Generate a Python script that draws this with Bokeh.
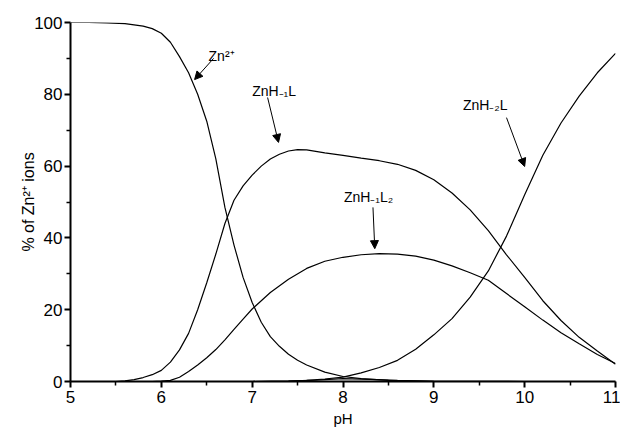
from bokeh.plotting import figure
from bokeh.models import Range1d, Label, Arrow, NormalHead, FixedTicker
from bokeh.embed import file_html
from bokeh.resources import INLINE

# ---- data ----
ph_zn = [5.0, 5.2, 5.4, 5.6, 5.8, 5.9, 6.0, 6.1, 6.2, 6.3, 6.4, 6.5, 6.6, 6.7, 6.8, 6.9,
         7.0, 7.1, 7.2, 7.3, 7.4, 7.5, 7.6, 7.8, 8.0, 8.2, 8.5, 9.0, 10.0, 11.0]
zn = [100, 100, 99.9, 99.7, 99.0, 98.3, 97.0, 94.5, 90.5, 86.0, 80.0, 72.5, 62.0, 48.5, 38.0, 29.0,
      22.0, 16.5, 12.5, 9.8, 7.6, 5.9, 4.6, 2.6, 1.4, 0.8, 0.3, 0.05, 0, 0]

ph_h1 = [5.0, 5.5, 5.6, 5.7, 5.8, 5.9, 6.0, 6.1, 6.2, 6.3, 6.4, 6.5, 6.6, 6.7, 6.8, 6.9, 7.0,
         7.1, 7.2, 7.3, 7.4, 7.5, 7.6, 7.8, 8.0, 8.2, 8.4, 8.6, 8.8, 9.0, 9.2, 9.4, 9.6,
         9.8, 10.0, 10.2, 10.4, 10.6, 10.8, 11.0]
h1 = [0, 0, 0.2, 0.5, 1.1, 1.9, 3.1, 5.4, 8.8, 13.4, 20.0, 27.5, 35.5, 44.0, 50.5, 54.5, 57.5,
      60.0, 62.0, 63.3, 64.2, 64.6, 64.5, 63.7, 63.0, 62.2, 61.5, 60.5, 58.8, 56.2, 52.5, 47.8, 42.0,
      35.3, 29.0, 22.5, 17.0, 12.3, 8.5, 4.8]

ph_l2 = [5.0, 5.9, 6.0, 6.1, 6.2, 6.3, 6.4, 6.5, 6.6, 6.7, 6.8, 6.9, 7.0, 7.2, 7.4, 7.6, 7.8,
         8.0, 8.2, 8.4, 8.6, 8.8, 9.0, 9.2, 9.4, 9.6, 9.8, 10.0, 10.2, 10.4, 10.6, 10.8, 11.0]
l2 = [0, 0, 0.1, 0.3, 1.2, 2.8, 4.6, 6.6, 8.9, 11.6, 14.5, 17.4, 20.2, 24.8, 28.5, 31.5, 33.5,
      34.6, 35.3, 35.6, 35.5, 34.9, 33.8, 32.2, 30.3, 28.2, 24.5, 20.8, 17.1, 13.6, 10.5, 7.5, 5.0]

ph_h2 = [5.0, 7.0, 7.4, 7.6, 7.8, 8.0, 8.2, 8.4, 8.6, 8.8, 9.0, 9.2, 9.4, 9.6, 9.8, 10.0,
         10.2, 10.4, 10.6, 10.8, 11.0]
h2 = [0, 0, 0.1, 0.3, 0.7, 1.2, 2.4, 3.9, 5.9, 9.0, 13.0, 17.5, 23.5, 30.8, 40.5, 52.0,
      63.0, 72.0, 79.5, 86.0, 91.4]

ph_minor = [5.0, 7.0, 7.4, 7.7, 8.0, 8.3, 8.6, 9.0, 9.5, 11.0]
minor_sp = [0, 0, 0.1, 0.4, 0.8, 0.6, 0.3, 0.05, 0, 0]

x_ticks = [5, 6, 7, 8, 9, 10, 11]
y_ticks = [0, 20, 40, 60, 80, 100]

# label text, anchor (pH, %), arrow tail (pH, %), arrow head (pH, %)
labels = [
    ("Zn\u00b2\u207a", 6.52, 90.8, 6.575, 90.0, 6.366, 84.1),
    ("ZnH\u208b\u2081L", 7.00, 80.8, 7.17, 79.1, 7.29, 66.6),
    ("ZnH\u208b\u2082L", 9.32, 76.9, 9.80, 73.5, 10.00, 59.9),
    ("ZnH\u208b\u2081L\u2082", 8.01, 51.3, 8.33, 48.5, 8.35, 37.0),
]

FONT = "Liberation Sans"

p = figure(
    output_backend="svg", toolbar_location=None,
    frame_width=545, frame_height=359,
    min_border_left=70, min_border_right=5, min_border_top=22, min_border_bottom=48,
    x_range=Range1d(5, 11), y_range=Range1d(0, 100),
    x_axis_label="pH", y_axis_label="% of Zn\u00b2\u207a ions",
)
p.outline_line_color = None
p.grid.visible = False
p.background_fill_color = "white"

for ax in (p.xaxis[0], p.yaxis[0]):
    ax.axis_line_width = 2
    ax.axis_line_color = "black"
    ax.major_tick_line_width = 2
    ax.minor_tick_line_width = 1.5
    ax.major_tick_in = 0
    ax.major_tick_out = 6
    ax.minor_tick_in = 0
    ax.minor_tick_out = 4
    ax.major_label_text_font = FONT
    ax.major_label_text_font_size = "17px"
    ax.major_label_text_color = "black"
    ax.axis_label_text_font = FONT
    ax.axis_label_text_font_size = "15px"
    ax.axis_label_text_font_style = "normal"
    ax.axis_label_text_color = "black"

p.yaxis.axis_label_text_font_size = "16px"
p.xaxis.ticker = FixedTicker(ticks=x_ticks, minor_ticks=[5.5 + i for i in range(6)])
p.yaxis.ticker = FixedTicker(ticks=y_ticks, minor_ticks=[10, 30, 50, 70, 90])
p.xaxis.major_label_standoff = 3
p.xaxis.axis_label_standoff = 4
p.yaxis.major_label_standoff = 2
p.yaxis.axis_label_standoff = -6

for xs, ys in ((ph_zn, zn), (ph_h1, h1), (ph_l2, l2), (ph_h2, h2), (ph_minor, minor_sp)):
    p.line(xs, ys, line_color="black", line_width=1.2)

for txt, lx, ly, x0, y0, x1, y1 in labels:
    p.add_layout(Label(x=lx, y=ly, text=txt, text_font=FONT, text_font_size="14px",
                       text_color="black", text_align="left", text_baseline="alphabetic"))
    p.add_layout(Arrow(x_start=x0, y_start=y0, x_end=x1, y_end=y1, line_width=1,
                       line_color="black",
                       end=NormalHead(size=8, fill_color="black", line_color="black")))

open("out.html", "w").write(file_html(p, INLINE))
